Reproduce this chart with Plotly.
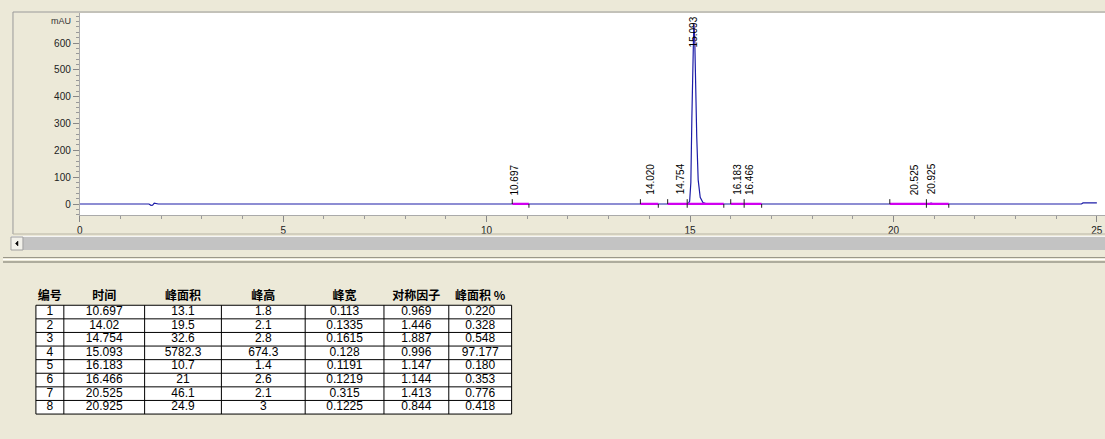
import plotly.graph_objects as go

W, H = 1105, 439
BEIGE = "#ECE9D8"

# ---------------- data ----------------
# chromatogram signal (min, mAU)
trace_time = [0.0, 1.70, 1.75, 1.79, 1.83, 1.87, 1.93,
              10.60, 10.697, 10.80,
              13.90, 14.02, 14.15,
              14.65, 14.754, 14.86,
              14.95, 14.99, 15.02, 15.045, 15.07, 15.093, 15.115, 15.14, 15.165, 15.20, 15.25, 15.32, 15.42,
              16.10, 16.183, 16.28, 16.40, 16.466, 16.56,
              20.30, 20.525, 20.75, 20.85, 20.925, 21.00,
              24.62, 24.66, 25.00]
trace_signal = [0, 0, -5, -4, 3, 2, 0,
                0, 1.8, 0,
                0, 2.1, 0,
                0, 2.8, 0,
                0, 10, 80, 320, 600, 674.3, 620, 420, 250, 90, 25, 5, 0,
                0, 1.4, 0, 0, 2.6, 0,
                0, 2.1, 0, 0, 3, 0,
                0, 4, 4]

# peak table
peak_no = [1, 2, 3, 4, 5, 6, 7, 8]
ret_time = [10.697, 14.02, 14.754, 15.093, 16.183, 16.466, 20.525, 20.925]
peak_area = [13.1, 19.5, 32.6, 5782.3, 10.7, 21, 46.1, 24.9]
peak_height = [1.8, 2.1, 2.8, 674.3, 1.4, 2.6, 2.1, 3]
peak_width = [0.113, 0.1335, 0.1615, 0.128, 0.1191, 0.1219, 0.315, 0.1225]
symmetry = [0.969, 1.446, 1.887, 0.996, 1.147, 1.144, 1.413, 0.844]
area_pct = [0.220, 0.328, 0.548, 97.177, 0.180, 0.353, 0.776, 0.418]

# integration limits
peak_start = [10.63, 13.78, 14.45, 14.93, 16.00, 16.33, 19.91, 20.81]
peak_end = [11.04, 14.22, 14.93, 15.83, 16.33, 16.76, 20.81, 21.36]

headers = ["编号", "时间", "峰面积", "峰高", "峰宽", "对称因子", "峰面积 %"]
y_ticks = [0, 100, 200, 300, 400, 500, 600]
x_ticks = [0, 5, 10, 15, 20, 25]

# ---------------- helpers ----------------
def px(x):
    return x / W

def py(y):
    return 1 - y / H

FONT = "Liberation Sans, Arial, sans-serif"
NARROW = "Liberation Sans Narrow, Arial Narrow, Liberation Sans, sans-serif"
CJK = "Noto Sans CJK SC, sans-serif"

fig = go.Figure()

# main signal
fig.add_trace(go.Scatter(x=trace_time, y=trace_signal, mode="lines",
                         line=dict(color="#1c1ca8", width=1.2),
                         hoverinfo="skip", showlegend=False))

# integration baselines
bx, by = [], []
for s, e in zip(peak_start, peak_end):
    bx += [s, e, None]
    by += [0.8, 0.8, None]
fig.add_trace(go.Scatter(x=bx, y=by, mode="lines",
                         line=dict(color="#d000f0", width=2.2),
                         hoverinfo="skip", showlegend=False))

# start / end tick marks
tx, ty = [], []
for s in peak_start:
    tx += [s, s, None]
    ty += [0, 18, None]
for e in peak_end:
    tx += [e, e, None]
    ty += [-14, 0, None]
fig.add_trace(go.Scatter(x=tx, y=ty, mode="lines",
                         line=dict(color="#202020", width=1),
                         hoverinfo="skip", showlegend=False))

# peak labels
Y_MAX = 712
for rt, h in zip(ret_time, peak_height):
    txt = f"{rt:.3f}"
    if h + 25 + 130 > Y_MAX:
        fig.add_annotation(x=rt, y=Y_MAX - 4, yanchor="top", xanchor="center",
                           text=txt, textangle=-90, showarrow=False,
                           font=dict(family=FONT, size=10, color="#000"))
    else:
        fig.add_annotation(x=rt, y=h + 24, yanchor="bottom", xanchor="center",
                           text=txt, textangle=-90, showarrow=False,
                           font=dict(family=FONT, size=10, color="#000"))

# mAU label
fig.add_annotation(xref="paper", x=px(70), xanchor="right", yref="y", y=683,
                   text="mAU", showarrow=False,
                   font=dict(family=FONT, size=9, color="#333"))

# ---------------- table on its own axes ----------------
col_widths = [28, 81, 77, 84, 79, 65, 63]
col_edges = [0]
for w in col_widths:
    col_edges.append(col_edges[-1] + w)
col_centers = [(a + b) / 2 for a, b in zip(col_edges[:-1], col_edges[1:])]
n_rows = len(peak_no)

columns = [[str(n) for n in peak_no],
           [f"{v:g}" for v in ret_time],
           [f"{v:g}" for v in peak_area],
           [f"{v:g}" for v in peak_height],
           [f"{v:g}" for v in peak_width],
           [f"{v:.3f}" for v in symmetry],
           [f"{v:.3f}" for v in area_pct]]

# grid
gx, gy = [], []
for r in range(n_rows + 1):
    gx += [col_edges[0], col_edges[-1], None]
    gy += [r, r, None]
for e in col_edges:
    gx += [e, e, None]
    gy += [0, n_rows, None]
# cell backgrounds
fig.add_trace(go.Scatter(x=[col_edges[0], col_edges[-1], col_edges[-1], col_edges[0], col_edges[0]],
                         y=[0, 0, n_rows, n_rows, 0], mode="lines", fill="toself",
                         fillcolor="white", line=dict(width=0),
                         xaxis="x2", yaxis="y2", hoverinfo="skip", showlegend=False))
fig.add_trace(go.Scatter(x=gx, y=gy, mode="lines", line=dict(color="#000", width=1),
                         xaxis="x2", yaxis="y2", hoverinfo="skip", showlegend=False))
# header
fig.add_trace(go.Scatter(x=col_centers, y=[-0.6] * len(headers), mode="text",
                         text=headers, textposition="middle center",
                         textfont=dict(family=CJK, size=12, color="#000", weight="bold"),
                         xaxis="x2", yaxis="y2", hoverinfo="skip", showlegend=False))
# cells
for cx, vals in zip(col_centers, columns):
    fig.add_trace(go.Scatter(x=[cx] * n_rows, y=[r + 0.5 for r in range(n_rows)], mode="text",
                             text=vals, textposition="middle center",
                             textfont=dict(family=NARROW, size=12, color="#000"),
                             xaxis="x2", yaxis="y2", hoverinfo="skip", showlegend=False))

# decorative frame / scrollbar / separator
shapes = [
    # white plotting area of the chromatogram
    dict(type="rect", xref="x domain", yref="y domain", x0=0, x1=1, y0=0, y1=1,
         fillcolor="white", line=dict(width=0), layer="below"),
    # panel frame
    dict(type="line", xref="paper", yref="paper", x0=px(10), x1=1, y0=py(12), y1=py(12),
         line=dict(color="#9a9a9a", width=1)),
    dict(type="line", xref="paper", yref="paper", x0=px(10), x1=px(10), y0=py(12), y1=py(234),
         line=dict(color="#9a9a9a", width=1)),
    dict(type="line", xref="paper", yref="paper", x0=px(10), x1=1, y0=py(234), y1=py(234),
         line=dict(color="#b8b4a4", width=1)),
    # scrollbar
    dict(type="rect", xref="paper", yref="paper", x0=px(20), x1=1, y0=py(250), y1=py(237),
         fillcolor="#c3c3c3", line=dict(width=0)),
    dict(type="line", xref="paper", yref="paper", x0=px(8), x1=1, y0=py(236.5), y1=py(236.5),
         line=dict(color="#f4f4f4", width=1)),
    dict(type="rect", xref="paper", yref="paper", x0=px(8), x1=px(20), y0=py(250), y1=py(237),
         fillcolor="#f2f1ea", line=dict(color="#a0a0a0", width=1)),
    dict(type="path", xref="paper", yref="paper",
         path=f"M {px(12.5)},{py(243.5)} L {px(15)},{py(241)} L {px(15)},{py(246)} Z",
         fillcolor="#000", line=dict(color="#000", width=0.5)),
    # separator
    dict(type="line", xref="paper", yref="paper", x0=0, x1=1, y0=py(257.5), y1=py(257.5),
         line=dict(color="#9a978a", width=1)),
    dict(type="line", xref="paper", yref="paper", x0=0, x1=1, y0=py(259.5), y1=py(259.5),
         line=dict(color="#ffffff", width=1)),
    dict(type="line", xref="paper", yref="paper", x0=0, x1=1, y0=py(262), y1=py(262),
         line=dict(color="#9a978a", width=1.5)),
]

ROW_PX = 13.6
tbl_top, tbl_bot = 288, 415
y2_span = (tbl_bot - tbl_top) / ROW_PX

fig.update_layout(
    width=W, height=H,
    margin=dict(l=0, r=0, t=0, b=0),
    paper_bgcolor=BEIGE, plot_bgcolor=BEIGE,
    showlegend=False,
    shapes=shapes,
    xaxis=dict(domain=[px(77), 1], range=[0, 25.2],
               tickvals=x_ticks, ticks="outside", ticklen=6, tickcolor="#888",
               showline=True, linecolor="#aaa", linewidth=1,
               showgrid=False, zeroline=False,
               minor=dict(dtick=1, tick0=0, ticks="outside", ticklen=3, tickcolor="#999"),
               tickfont=dict(family=FONT, size=10, color="#222")),
    yaxis=dict(domain=[py(215), py(13)], range=[-41, Y_MAX],
               tickvals=y_ticks, ticks="outside", ticklen=6, tickcolor="#888",
               showline=True, linecolor="#aaa", linewidth=1,
               showgrid=False, zeroline=False,
               minor=dict(dtick=20, tick0=0, ticks="outside", ticklen=3, tickcolor="#999"),
               tickfont=dict(family=FONT, size=10, color="#222")),
    xaxis2=dict(domain=[px(32), px(512)], range=[-1, 479], visible=False,
                anchor="y2", fixedrange=True),
    yaxis2=dict(domain=[py(tbl_bot), py(tbl_top)],
                range=[n_rows + 0.07, n_rows + 0.07 - y2_span], visible=False,
                anchor="x2", fixedrange=True),
)

fig.write_html("out.html", config={"displayModeBar": False},
               post_script="document.body.style.margin='0';document.body.style.background='" + BEIGE + "';")
